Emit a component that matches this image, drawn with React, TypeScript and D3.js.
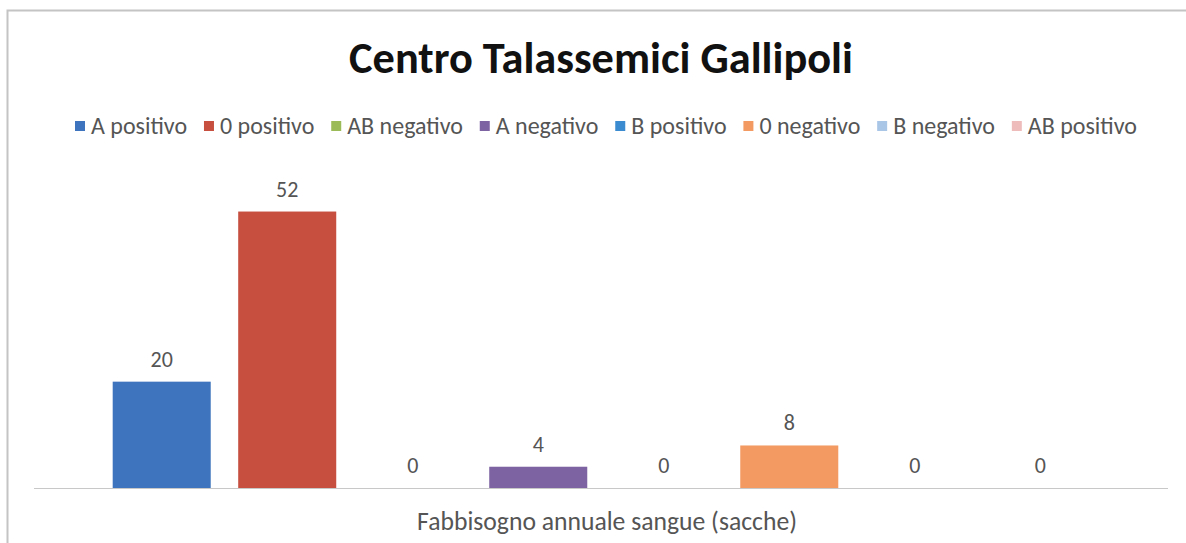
import React, { useEffect, useRef } from "react";
import * as d3 from "d3";

const series = ["A positivo", "0 positivo", "AB negativo", "A negativo", "B positivo", "0 negativo", "B negativo", "AB positivo"];
const values = [20, 52, 0, 4, 0, 8, 0, 0];
const colors = ["#3d74bd", "#c64f3f", "#9bbb59", "#7e63a3", "#3a8bd0", "#f39a62", "#a9c6e6", "#efbcbc"];
const category = "Fabbisogno annuale sangue (sacche)";
const title = "Centro Talassemici Gallipoli";

const W = 1186;
const H = 543;
const FONT = "Carlito, Lato, 'Open Sans', sans-serif";

export default function App() {
  const ref = useRef<SVGSVGElement>(null);

  useEffect(() => {
    const svg = d3.select(ref.current);
    svg.selectAll("*").remove();

    svg.append("rect").attr("x", 7.5).attr("y", 10.5).attr("width", W).attr("height", H)
      .attr("fill", "#fff").attr("stroke", "#c4c4c4").attr("stroke-width", 2);

    const x0 = 34, x1 = 1168;
    const x = d3.scaleBand<string>().domain(series).range([x0, x1]).paddingInner(0.219).paddingOuter(0.627);
    const y = d3.scaleLinear().domain([0, 60]).range([488, 169]);

    const tt = svg.append("text").attr("x", 601).attr("y", 73).attr("text-anchor", "middle")
      .attr("font-family", FONT).attr("font-weight", "bold").attr("font-size", 44).attr("fill", "#111")
      .text(title);
    const tw = (tt.node() as SVGTextElement).getComputedTextLength();
    tt.attr("font-size", 44 * 504 / tw);

    // bars
    svg.selectAll("rect.bar").data(series).enter().append("rect").attr("class", "bar")
      .attr("x", (d) => x(d)!).attr("width", x.bandwidth())
      .attr("y", (d, i) => y(values[i])).attr("height", (d, i) => y(0) - y(values[i]))
      .attr("fill", (d, i) => colors[i]);

    // axis line
    svg.append("line").attr("x1", x0).attr("x2", x1).attr("y1", y(0) + 0.5).attr("y2", y(0) + 0.5)
      .attr("stroke", "#c8c8c8").attr("stroke-width", 1.2);

    // labels
    svg.selectAll("text.lbl").data(series).enter().append("text").attr("class", "lbl")
      .attr("x", (d) => x(d)! + x.bandwidth() / 2)
      .attr("y", (d, i) => y(values[i]) - 15)
      .attr("text-anchor", "middle").attr("font-family", FONT).attr("font-size", 22).attr("fill", "#555")
      .text((d, i) => String(values[i]));

    const ct = svg.append("text").attr("x", 607).attr("y", 530).attr("text-anchor", "middle")
      .attr("font-family", FONT).attr("font-size", 24).attr("fill", "#555").text(category);
    const cw = (ct.node() as SVGTextElement).getComputedTextLength();
    ct.attr("font-size", 24 * 380 / cw);

    // legend
    const lg = svg.append("g");
    const sw = 10, gap1 = 6;
    const items: { r: any; t: any; w: number }[] = [];
    series.forEach((s, i) => {
      const r = lg.append("rect").attr("y", -13).attr("width", sw).attr("height", sw).attr("fill", colors[i]);
      const t = lg.append("text").attr("y", 0)
        .attr("font-family", FONT).attr("font-size", 24).attr("fill", "#555").text(s);
      items.push({ r, t, w: (t.node() as SVGTextElement).getComputedTextLength() });
    });
    const target = 1062;
    const base = items.reduce((a, it) => a + sw + gap1 + it.w, 0);
    const gap2 = Math.max(4, (target - base) / (items.length - 1));
    let cx = 0;
    items.forEach((it) => {
      it.r.attr("x", cx);
      it.t.attr("x", cx + sw + gap1);
      cx += sw + gap1 + it.w + gap2;
    });
    const total = cx - gap2;
    lg.attr("transform", `translate(${606 - total / 2},134)`);
  }, []);

  return (
    <svg ref={ref} width={W} height={H} style={{ position: "absolute", left: 0, top: 0, background: "#fff" }} />
  );
}
